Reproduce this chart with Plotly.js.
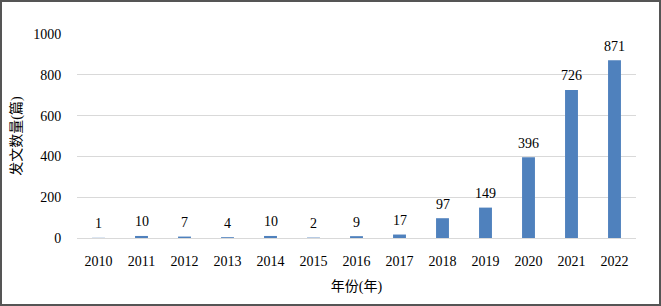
<!DOCTYPE html>
<html>
<head>
<meta charset="utf-8">
<script src="https://cdn.plot.ly/plotly-3.0.1.min.js"></script>
<style>
html,body{margin:0;padding:0;background:#fff;}
#wrap{position:relative;width:661px;height:306px;}
#chart{width:661px;height:306px;}
#frame{position:absolute;left:0;top:0;width:661px;height:306px;box-sizing:border-box;border:2px solid #555;pointer-events:none;}
</style>
</head>
<body>
<div id="wrap"><div id="chart"></div><div id="frame"></div></div>
<script>
const years = ['2010','2011','2012','2013','2014','2015','2016','2017','2018','2019','2020','2021','2022'];
const counts = [1,10,7,4,10,2,9,17,97,149,396,726,871];
const yTicks = [0,200,400,600,800,1000];
const fontFam = "Liberation Serif, Noto Sans CJK SC, serif";

const labels = years.map((yr, i) => ({
  x: i, y: counts[i], xref: 'x', yref: 'y',
  text: String(counts[i]), showarrow: false,
  yanchor: 'middle', yshift: 14,
  font: {family: fontFam, size: 14, color: '#000'}
}));

Plotly.newPlot('chart', [{
  type: 'bar',
  x: years,
  y: counts,
  marker: {color: '#4F81BD', line: {width: 0}},
  width: 0.3,
  hoverinfo: 'none'
}], {
  width: 661, height: 306,
  margin: {l: 77, r: 25, t: 34, b: 68},
  paper_bgcolor: '#fff', plot_bgcolor: '#fff',
  showlegend: false,
  font: {family: fontFam, size: 14, color: '#000'},
  annotations: labels,
  xaxis: {
    type: 'category',
    range: [-0.5, years.length - 0.5],
    showgrid: false, showline: false, zeroline: false,
    ticks: 'outside', ticklen: 10, tickcolor: 'rgba(0,0,0,0)',
    tickfont: {family: fontFam, size: 14, color: '#000'},
    title: {text: '年份(年)', font: {family: fontFam, size: 14, color: '#000'}, standoff: 13}
  },
  yaxis: {
    range: [0, 1000],
    tickvals: yTicks,
    ticktext: yTicks.map(String),
    showgrid: true, gridcolor: '#d9d9d9', gridwidth: 1,
    zeroline: true, zerolinecolor: '#d9d9d9', zerolinewidth: 1,
    showline: false,
    ticks: 'outside', ticklen: 12, tickcolor: 'rgba(0,0,0,0)',
    tickfont: {family: fontFam, size: 14, color: '#000'},
    title: {text: '发文数量(篇)', font: {family: fontFam, size: 14, color: '#000'}, standoff: 8}
  }
}, {staticPlot: true, displayModeBar: false});
</script>
</body>
</html>
